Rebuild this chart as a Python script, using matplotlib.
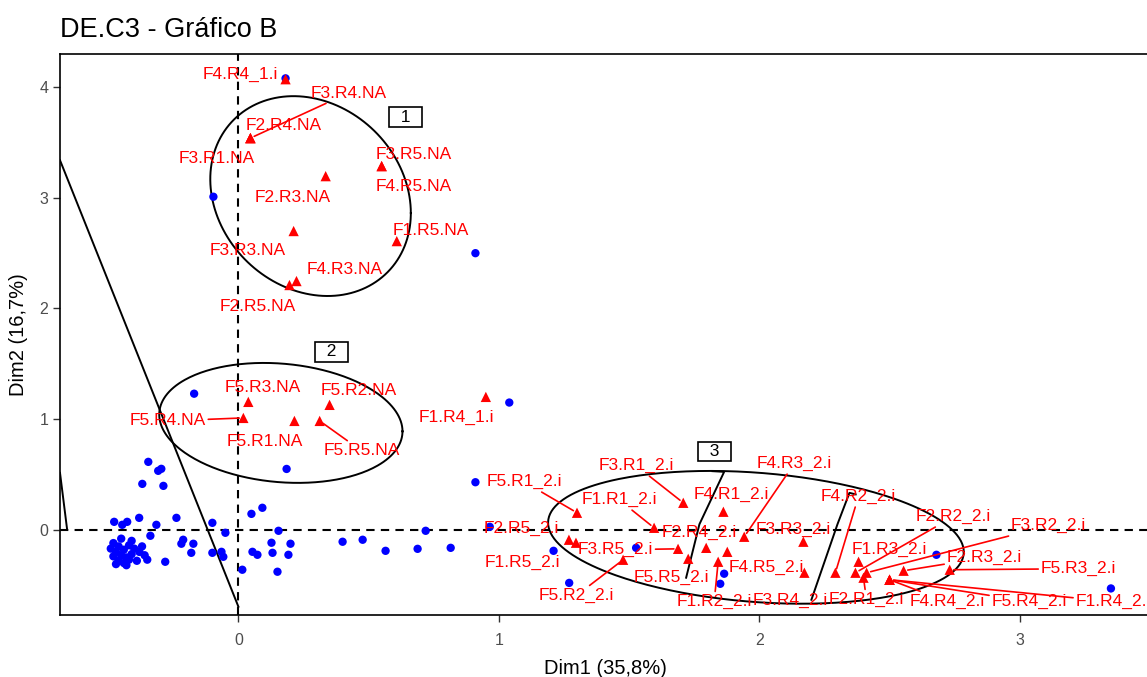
import numpy as np
import matplotlib
matplotlib.use("Agg")
import matplotlib.pyplot as plt

plt.rcParams['font.family'] = ['Liberation Sans', 'DejaVu Sans']

# individuos (azul)
ind_x = [0.181, -0.096, 0.91, -0.17, 0.185, 1.04, 0.91, 0.965, 1.21, 1.27, 1.527, 1.865, 1.85, 2.68, 3.35,
         -0.346, -0.308, -0.296, -0.369, -0.288, -0.477, -0.446, -0.427, -0.381, -0.315, -0.238, -0.100,
         -0.050, -0.338, -0.212, -0.219, -0.173, -0.181, -0.100, -0.065, -0.058, -0.281, 0.015, 0.050,
         0.092, 0.154, 0.127, 0.200, 0.054, 0.073, 0.131, 0.192, 0.150, 0.400, 0.477, 0.565, 0.688,
         0.719, 0.815,
         -0.48, -0.46, -0.44, -0.47, -0.45, -0.43, -0.42, -0.40, -0.41, -0.46, -0.44, -0.38, -0.36,
         -0.35, -0.39, -0.48, -0.43, -0.49, -0.37, -0.41, -0.45, -0.47, -0.42]
ind_y = [4.08, 3.01, 2.50, 1.23, 0.55, 1.15, 0.43, 0.027, -0.19, -0.48, -0.163, -0.397, -0.488, -0.226, -0.53,
         0.614, 0.533, 0.551, 0.415, 0.397, 0.072, 0.045, 0.072, 0.108, 0.045, 0.108, 0.063,
         -0.027, -0.054, -0.090, -0.126, -0.126, -0.208, -0.208, -0.199, -0.244, -0.289, -0.361, 0.144,
         0.199, -0.009, -0.117, -0.126, -0.199, -0.226, -0.208, -0.226, -0.379, -0.108, -0.090, -0.190, -0.172,
         -0.009, -0.163,
         -0.12, -0.15, -0.18, -0.20, -0.23, -0.25, -0.14, -0.17, -0.22, -0.28, -0.30, -0.20, -0.23,
         -0.27, -0.28, -0.24, -0.32, -0.17, -0.15, -0.10, -0.08, -0.31, -0.27]

# suplementares (rojo)
sup_names = ["F4.R4_1.i", "F3.R4.NA", "F2.R4.NA", "F3.R1.NA", "F2.R3.NA", "F3.R5.NA", "F4.R5.NA",
             "F3.R3.NA", "F4.R3.NA", "F2.R5.NA", "F1.R5.NA", "F5.R3.NA", "F5.R2.NA", "F5.R4.NA",
             "F5.R1.NA", "F5.R5.NA", "F1.R4_1.i",
             "F5.R1_2.i", "F3.R1_2.i", "F1.R1_2.i", "F4.R1_2.i", "F4.R3_2.i", "F2.R4_2.i", "F3.R3_2.i",
             "F2.R5_2.i", "F1.R5_2.i", "F3.R5_2.i", "F5.R2_2.i", "F5.R5_2.i", "F1.R2_2.i", "F4.R5_2.i",
             "F3.R4_2.i", "F4.R2_2.i", "F1.R3_2.i", "F2.R2_2.i", "F3.R2_2.i", "F2.R1_2.i", "F2.R3_2.i",
             "F5.R3_2.i", "F4.R4_2.i", "F5.R4_2.i", "F1.R4_2.i"]
sup_x = [0.181, 0.046, 0.046, 0.046, 0.335, 0.550, 0.550, 0.212, 0.223, 0.196, 0.608, 0.038, 0.350, 0.019,
         0.215, 0.312, 0.950,
         1.300, 1.708, 1.596, 1.862, 1.942, 1.796, 2.169, 1.269, 1.296, 1.688, 1.477, 1.727, 1.842, 1.877,
         2.173, 2.292, 2.381, 2.369, 2.412, 2.400, 2.554, 2.731, 2.500, 2.500, 2.500]
sup_y = [4.072, 3.540, 3.540, 3.540, 3.196, 3.287, 3.287, 2.700, 2.248, 2.212, 2.609, 1.156, 1.129, 1.011,
         0.984, 0.984, 1.201,
         0.154, 0.244, 0.018, 0.163, -0.063, -0.163, -0.108, -0.090, -0.117, -0.172, -0.271, -0.262, -0.289,
         -0.199, -0.388, -0.388, -0.289, -0.388, -0.388, -0.433, -0.370, -0.361, -0.451, -0.451, -0.451]

# elipses de los grupos
grp_names = ["1", "2", "3"]
ell_cx = [0.277, 0.163, 1.987]
ell_cy = [3.016, 0.966, -0.068]
ell_sx = [0.385, 0.467, 0.798]
ell_sy = [0.903, 0.542, 0.600]
ell_rho = [-0.17, -0.14, -0.22]
grp_lab_x = [0.642, 0.358, 1.827]
grp_lab_y = [3.73, 1.607, 0.704]

# trazos de frontera
edge_a_x = [-0.685, 0.0]
edge_a_y = [3.34, -0.695]
edge_b_x = [-0.685, -0.658]
edge_b_y = [0.515, 0.009]
edge_c_x = [1.82, 1.865, 1.77, 1.719]
edge_c_y = [0.53, 0.524, 0.05, -0.433]
edge_d_x = [2.37, 2.346, 2.30, 2.20]
edge_d_y = [0.32, 0.334, 0.05, -0.632]

# posicion de etiquetas (repel), en pixeles respecto al punto
lab_dx = [-45, 98, 33, -34, -33, 32, 32, -46, 48, -32, 34, 14, 29, -76, -30, 42, -29,
          -53, -47, -35, 8, 50, -7, -10, -48, -54, -63, -47, -17, -4, 39, -14, 23, 31, 98, 182, 3, 81,
          129, 58, 140, 224]
lab_dy = [5, 45, 13, -20, -21, 12, -20, -19, 12, -21, 11, 14, 14, -3, -21, -30, -21,
          31, 37, 28, 17, 73, 15, 12, 11, -20, -1, -36, -19, -40, -16, -28, 76, 12, 56, 47, -22, 13,
          1, -22, -22, -22]
lab_seg = [0, 1, 0, 0, 0, 0, 0, 0, 0, 0, 0, 0, 0, 1, 0, 1, 0,
           1, 1, 1, 0, 1, 0, 0, 0, 0, 1, 1, 0, 1, 0, 0, 1, 0, 1, 1, 1, 1,
           1, 1, 1, 1]

fig = plt.figure(figsize=(11.47, 6.77), dpi=100)
ax = fig.add_axes([60/1147, 62/677, 1090/1147, 561/677])

ax.axhline(0, color="black", lw=1.5, ls=(0, (4, 3)), zorder=1)
ax.axvline(0, color="black", lw=1.5, ls=(0, (4, 3)), zorder=1)

t = np.linspace(0, 2*np.pi, 300)
for i in range(3):
    ex = ell_cx[i] + ell_sx[i]*np.cos(t)
    ey = ell_cy[i] + ell_sy[i]*(ell_rho[i]*np.cos(t) + np.sqrt(1-ell_rho[i]**2)*np.sin(t))
    ax.plot(ex, ey, color="black", lw=1.4, zorder=2)
    ax.text(grp_lab_x[i], grp_lab_y[i], "  " + grp_names[i] + "  ", ha="center", va="center",
            fontsize=12.5, color="black", zorder=5,
            bbox=dict(boxstyle="square,pad=0.12", fc="white", ec="black", lw=1.2))

for ex, ey in [(edge_a_x, edge_a_y), (edge_b_x, edge_b_y), (edge_c_x, edge_c_y), (edge_d_x, edge_d_y)]:
    ax.plot(ex, ey, color="black", lw=1.4, zorder=2)

ax.scatter(ind_x, ind_y, s=36, color="blue", edgecolors="none", zorder=3)
ax.scatter(sup_x, sup_y, s=55, marker="^", color="red", edgecolors="none", zorder=4)

for i, name in enumerate(sup_names):
    props = None
    if lab_seg[i]:
        props = dict(arrowstyle="-", color="red", lw=1.2, shrinkA=0, shrinkB=3)
    ax.annotate(name, (sup_x[i], sup_y[i]), xytext=(lab_dx[i], lab_dy[i]), textcoords="offset pixels",
                ha="center", va="center", color="red", fontsize=12.5, arrowprops=props,
                annotation_clip=False, zorder=5)

ax.set_xlim(-0.685, 3.50)
ax.set_ylim(-0.77, 4.30)
ax.set_xticks([0, 1, 2, 3])
ax.set_yticks([0, 1, 2, 3, 4])
ax.tick_params(colors="#333333", labelcolor="#4d4d4d", labelsize=11.5, length=5, width=1)
ax.tick_params(axis="x", pad=8)
for s in ax.spines.values():
    s.set_linewidth(1.2)
    s.set_color("black")
ax.set_xlabel("Dim1 (35,8%)", fontsize=14.5, labelpad=8)
ax.set_ylabel("Dim2 (16,7%)", fontsize=14.5, labelpad=8)
fig.text(60/1147, 1 - 30/677, "DE.C3 - Gráfico B", fontsize=19.5, ha="left", va="center")

fig.savefig("out.png", dpi=100)
